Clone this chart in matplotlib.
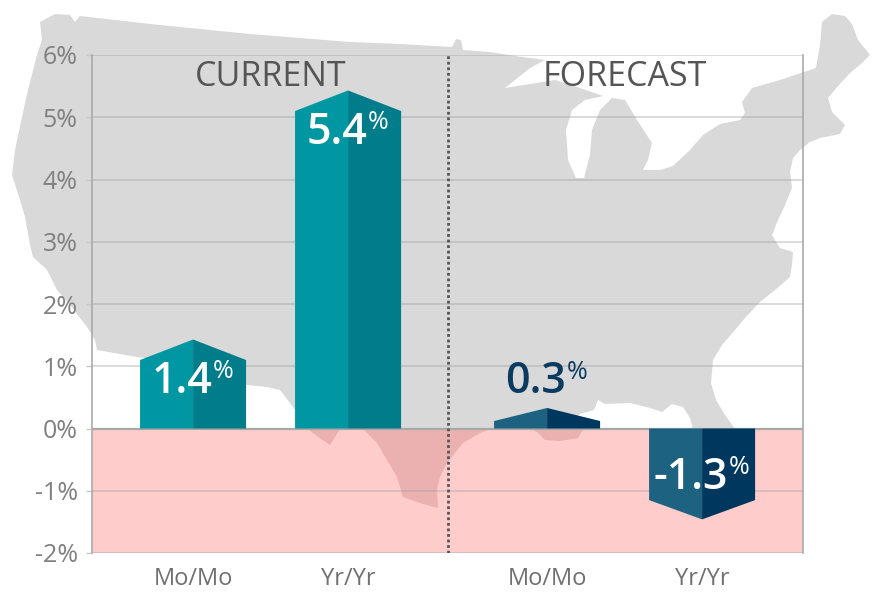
import numpy as np
import matplotlib
matplotlib.use("Agg")
import matplotlib.pyplot as plt
from matplotlib.patches import Polygon, Rectangle

plt.rcParams['font.family'] = ['Open Sans', 'DejaVu Sans']

# ---------------- data ----------------
groups = ["CURRENT", "FORECAST"]
categories = ["Mo/Mo", "Yr/Yr", "Mo/Mo", "Yr/Yr"]
group_of = [0, 0, 1, 1]
values = [1.4, 5.4, 0.3, -1.3]
value_labels = ["1.4", "5.4", "0.3", "-1.3"]
yticks = [-2, -1, 0, 1, 2, 3, 4, 5, 6]
ytick_labels = ["-2%", "-1%", "0%", "1%", "2%", "3%", "4%", "5%", "6%"]

# background decoration: rough outline of the contiguous US (figure pixels)
US_OUTLINE_PX = [
    (40, 22), (55, 14), (70, 15), (75, 22), (80, 16), (150, 24), (200, 29), (250, 34),
    (300, 38), (350, 42), (400, 44), (452, 47), (456, 39), (461, 40), (463, 50),
    (490, 52), (515, 56), (545, 60), (530, 68), (505, 88), (530, 84), (555, 80),
    (580, 88), (603, 96), (585, 100), (572, 110), (566, 130), (568, 160), (576, 178),
    (584, 178), (590, 155), (592, 130), (600, 110), (612, 98), (625, 100), (637, 120),
    (652, 143), (648, 160), (643, 170), (660, 170), (673, 166), (690, 150), (703, 135),
    (720, 124), (740, 120), (745, 113), (742, 102), (752, 88), (780, 80), (816, 68),
    (820, 45), (822, 22), (832, 14), (845, 16), (852, 24), (858, 40), (870, 55),
    (862, 63), (850, 73), (838, 86), (828, 98), (832, 112), (845, 125), (840, 134),
    (820, 138), (810, 142), (800, 150), (793, 158), (790, 172), (792, 188), (785, 205),
    (778, 220), (772, 235), (780, 248), (793, 252), (792, 265), (790, 277), (775, 290),
    (760, 302), (745, 318), (735, 330), (722, 345), (713, 360), (711, 383), (716, 400),
    (725, 415), (735, 429), (745, 460), (745, 490), (735, 505), (722, 503), (712, 480),
    (703, 455), (697, 435), (693, 429), (690, 418), (683, 407), (672, 404), (662, 412),
    (650, 408), (630, 403), (605, 404), (598, 400), (594, 410), (580, 414), (573, 420),
    (575, 428), (583, 430), (578, 438), (560, 441), (545, 440), (537, 432), (530, 428),
    (493, 428), (480, 433), (463, 443), (447, 463), (440, 477), (437, 490), (438, 508),
    (420, 503), (403, 497), (397, 477), (387, 460), (377, 443), (363, 429), (340, 429),
    (330, 445), (318, 437), (308, 429), (295, 410), (290, 403), (280, 390), (267, 387),
    (247, 385), (235, 375), (200, 365), (137, 357), (97, 350), (95, 340), (87, 327),
    (70, 305), (57, 290), (47, 270), (33, 257), (30, 245), (25, 217), (20, 200),
    (12, 175), (15, 150), (22, 117), (28, 90), (37, 55), (42, 40),
]

# ---------------- style ----------------
W, H = 892, 602
light_cols = ["#0097a2", "#1e6282"]
dark_cols = ["#007c8a", "#00375f"]
out_label_col = "#0b3a60"
pink = "#ffcccc"
map_gray = "#d9d9d9"
map_pink = "#ebb0b0"

fig = plt.figure(figsize=(W / 100, H / 100), dpi=100)
ax = fig.add_axes([92 / W, 1 - 553 / H, (803 - 92) / W, (553 - 55) / H])
ax.patch.set_alpha(0)

# positions: two groups of two
within, group_step = 1.0, 2.284
pos = []
k_in_group = {}
for g in group_of:
    k = k_in_group.get(g, 0)
    pos.append(g * group_step + k * within)
    k_in_group[g] = k + 1
pos = np.array(pos)
bar_w = 0.684
XLIM = (-0.652, 3.935)
YLIM = (yticks[0], yticks[-1])

# map in figure coordinates
pts = np.array(US_OUTLINE_PX, dtype=float)
pts_fig = np.column_stack([pts[:, 0] / W, 1 - pts[:, 1] / H])
ax.add_patch(Polygon(pts_fig, closed=True, facecolor=map_gray, edgecolor='none',
                     transform=fig.transFigure, clip_on=False, zorder=0))

# negative zone
neg = Rectangle((XLIM[0], YLIM[0]), XLIM[1] - XLIM[0], 0 - YLIM[0],
                facecolor=pink, edgecolor='none', zorder=0.5)
ax.add_patch(neg)
mp = Polygon(pts_fig, closed=True, facecolor=map_pink, edgecolor='none',
             transform=fig.transFigure, zorder=0.6)
ax.add_patch(mp)
mp.set_clip_path(neg)

# grid
for yv in yticks:
    ax.axhline(yv, color="#a0a0a0", alpha=0.45, lw=1.2, zorder=1)
ax.axhline(0, color="#a8a8a8", lw=1.6, zorder=1.1)

# divider
ax.axvline((pos[1] + pos[2]) / 2, color="#555555", lw=2.0, ls=(0, (1, 1)), zorder=2)

# bars
tips = []
for x, v, g in zip(pos, values, group_of):
    hw = bar_w / 2
    if v >= 0:
        tip = v + 0.03
        sh = tip - min(0.33, 0.7 * abs(v))
    else:
        sh = v + 0.15
        tip = sh - 0.31
    tips.append(tip)
    left = [(x - hw, 0), (x - hw, sh), (x, tip), (x, 0)]
    right = [(x, 0), (x, tip), (x + hw, sh), (x + hw, 0)]
    ax.add_patch(Polygon(left, closed=True, facecolor=light_cols[g], edgecolor='none', zorder=3))
    ax.add_patch(Polygon(right, closed=True, facecolor=dark_cols[g], edgecolor='none', zorder=3))

# value labels
for x, v, tip, lab, g in zip(pos, values, tips, value_labels, group_of):
    if abs(v) > 1:
        ly = tip - np.sign(v) * 0.67
        col = "white"
    else:
        ly = tip + 0.42
        col = out_label_col
    t = ax.annotate(lab, xy=(x, ly), xytext=(-8, 0), textcoords='offset points',
                    ha='center', va='center', fontsize=31, fontweight='semibold',
                    color=col, zorder=5)
    ax.annotate("%", xy=(1.0, 1.0), xycoords=t, xytext=(0.3, 0.5),
                textcoords='offset points', ha='left', va='top', fontsize=18,
                fontweight='normal', color=col, zorder=5)

# group headers
for gi, gname in enumerate(groups):
    gx = pos[np.array(group_of) == gi].mean()
    ax.text(gx, 5.65, gname, ha='center', va='center', fontsize=24.5,
            color="#555555", zorder=4)

# axes styling
ax.set_yticks(yticks)
ax.set_yticklabels(ytick_labels)
ax.set_xticks(pos)
ax.set_xticklabels(categories)
ax.tick_params(axis='y', length=4.3, width=1, color="#c8c8c8", pad=6, labelsize=18,
               labelcolor="#808080")
ax.tick_params(axis='x', length=0, pad=10, labelsize=17, labelcolor="#707070")
for s in ['top', 'bottom']:
    ax.spines[s].set_visible(False)
for s in ['left', 'right']:
    ax.spines[s].set_color("#aaaaaa")
    ax.spines[s].set_linewidth(1.2)
    ax.spines[s].set_zorder(2)

ax.set_xlim(*XLIM)
ax.set_ylim(*YLIM)

fig.savefig("out.png", dpi=100)
